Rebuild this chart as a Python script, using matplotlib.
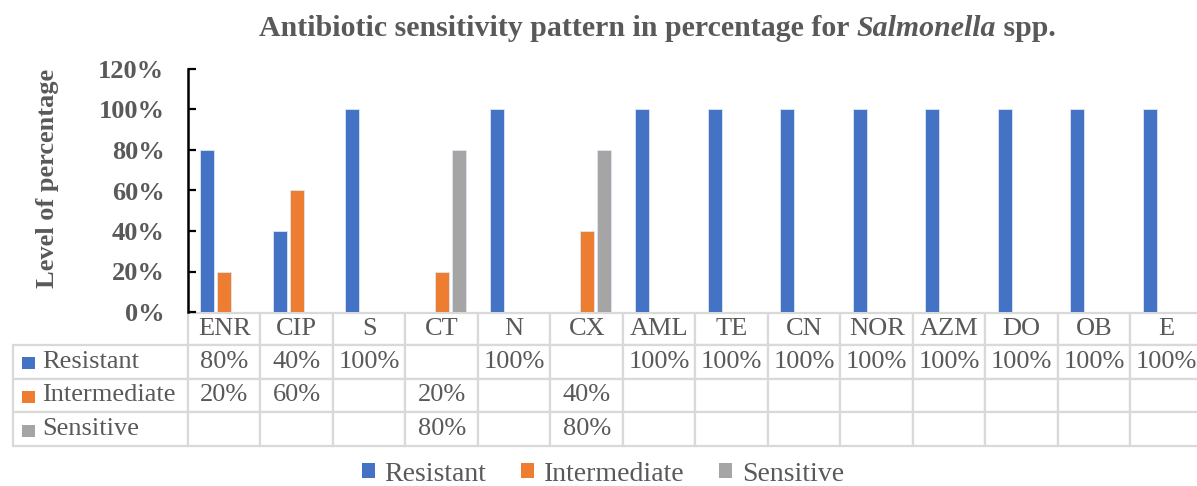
import matplotlib
matplotlib.use('Agg')
import matplotlib.pyplot as plt
from matplotlib.patches import Patch, Rectangle
from matplotlib.table import Table
import numpy as np

# ---------------- data ----------------
categories = ['ENR', 'CIP', 'S', 'CT', 'N', 'CX', 'AML', 'TE', 'CN', 'NOR', 'AZM', 'DO', 'OB', 'E']
resistant = [80, 40, 100, np.nan, 100, np.nan, 100, 100, 100, 100, 100, 100, 100, 100]
intermediate = [20, 60, np.nan, 20, np.nan, 40, np.nan, np.nan, np.nan, np.nan, np.nan, np.nan, np.nan, np.nan]
sensitive = [np.nan, np.nan, np.nan, 80, np.nan, 80, np.nan, np.nan, np.nan, np.nan, np.nan, np.nan, np.nan, np.nan]
series_names = ['Resistant', 'Intermediate', 'Sensitive']
yticks = [0, 20, 40, 60, 80, 100, 120]
ytick_labels = [f'{v}%' for v in yticks]
title_parts = ['Antibiotic sensitivity pattern in percentage for ', 'Salmonella', ' spp.']
ylabel = 'Level of percentage'

# ---------------- style ----------------
colors = ['#4472C4', '#ED7D31', '#A5A5A5']
TXT = '#595959'
GRID = '#D9D9D9'
SERIF = 'Liberation Serif'

W, H = 1197, 486
fig = plt.figure(figsize=(W / 100, H / 100), dpi=100)
fig.patch.set_facecolor('white')

ax_l, ax_r, ax_t, ax_b = 188, 1203, 69, 312
ax = fig.add_axes([ax_l / W, 1 - ax_b / H, (ax_r - ax_l) / W, (ax_b - ax_t) / H])

series = [resistant, intermediate, sensitive]
x = np.arange(len(categories))
bw = 0.19
offs = [-0.235, 0.0, 0.235]
for vals, off, c, name in zip(series, offs, colors, series_names):
    ax.bar(x + off, vals, width=bw, color=c, edgecolor='#dfe6f3', linewidth=0.6, label=name, zorder=3)

ax.set_xlim(-0.5, len(categories) - 0.5)
ax.set_ylim(0, 120)
ax.set_xticks([])
ax.set_yticks(yticks)
ax.set_yticklabels(ytick_labels, fontfamily=SERIF, fontweight='bold', fontsize=19, color=TXT)
ax.tick_params(axis='y', direction='in', length=6, width=1.6, color='black', pad=17)
for s in ['top', 'right', 'bottom']:
    ax.spines[s].set_visible(False)
ax.spines['left'].set_linewidth(1.8)
ax.spines['left'].set_color('black')

ax.set_ylabel(ylabel, fontfamily=SERIF, fontweight='bold', fontsize=19, color=TXT)
ax.yaxis.set_label_coords((59 - ax_l) / (ax_r - ax_l), (ax_b - 178) / (ax_b - ax_t))

# ---------------- data table ----------------
axw = ax_r - ax_l
axh = ax_b - ax_t
tbl_l, tbl_r, tbl_t, tbl_b = 13, 1203, 313, 446
label_w = 175
col_w = (tbl_r - tbl_l - label_w) / len(categories)
hdr_h, row_h = 32, 34
tb = Table(ax, bbox=[(tbl_l - ax_l) / axw, (ax_b - tbl_b) / axh,
                     (tbl_r - tbl_l) / axw, (tbl_b - tbl_t) / axh])
tb.auto_set_font_size(False)

def style_text(cell, size=19):
    t = cell.get_text()
    t.set_fontfamily(SERIF)
    t.set_fontsize(size)
    t.set_color(TXT)

for j, cat in enumerate(categories):
    c = tb.add_cell(0, j + 1, width=col_w, height=hdr_h, text=cat, loc='center',
                    facecolor='white', edgecolor=GRID)
    style_text(c)
blank = tb.add_cell(0, 0, width=label_w, height=hdr_h, text='', facecolor='none', edgecolor='none')
blank.set_visible(False)

for i, (name, vals) in enumerate(zip(series_names, series)):
    c = tb.add_cell(i + 1, 0, width=label_w, height=row_h, text=name, loc='left',
                    facecolor='white', edgecolor=GRID)
    c.PAD = 29 / label_w
    style_text(c)
    for j, v in enumerate(vals):
        txt = '' if np.isnan(v) else f'{int(v)}%'
        c = tb.add_cell(i + 1, j + 1, width=col_w, height=row_h, text=txt, loc='center',
                        facecolor='white', edgecolor=GRID)
        style_text(c)
for cell in tb.get_celld().values():
    cell.set_linewidth(1.6)
ax.add_table(tb)

# coloured keys inside the row-label cells
for i, c in enumerate(colors):
    cy = tbl_t + hdr_h + row_h * i + row_h / 2 + 0.5
    sq_w, sq_h = 13, 12
    x0 = 22
    ax.add_patch(Rectangle(((x0 - ax_l) / axw, (ax_b - (cy + sq_h / 2)) / axh),
                           sq_w / axw, sq_h / axh, transform=ax.transAxes,
                           facecolor=c, edgecolor='none', clip_on=False, zorder=20))

# ---------------- legend ----------------
handles = [Patch(facecolor=c, edgecolor='none') for c in colors]
leg = fig.legend(handles, series_names, loc='center', bbox_to_anchor=(603 / W, 1 - 474 / H),
                 ncol=3, frameon=False, handlelength=0.47, handleheight=0.47,
                 handletextpad=0.35, columnspacing=1.25, borderpad=0.1,
                 prop={'family': SERIF, 'size': 20})
for t in leg.get_texts():
    t.set_color(TXT)

# ---------------- title (mixed italic) ----------------
renderer = fig.canvas.get_renderer()
styles = ['normal', 'italic', 'normal']
pieces = []
for part, st in zip(title_parts, styles):
    pieces.append(fig.text(0, 1 - 28 / H, part, fontfamily=SERIF, fontweight='bold',
                           fontstyle=st, fontsize=21.5, color=TXT, va='center', ha='left'))
widths = [p.get_window_extent(renderer).width for p in pieces]
total = sum(widths)
xpos = 657 - total / 2
for p, w in zip(pieces, widths):
    p.set_x(xpos / W)
    xpos += w

fig.savefig('out.png', dpi=100, facecolor='white')
